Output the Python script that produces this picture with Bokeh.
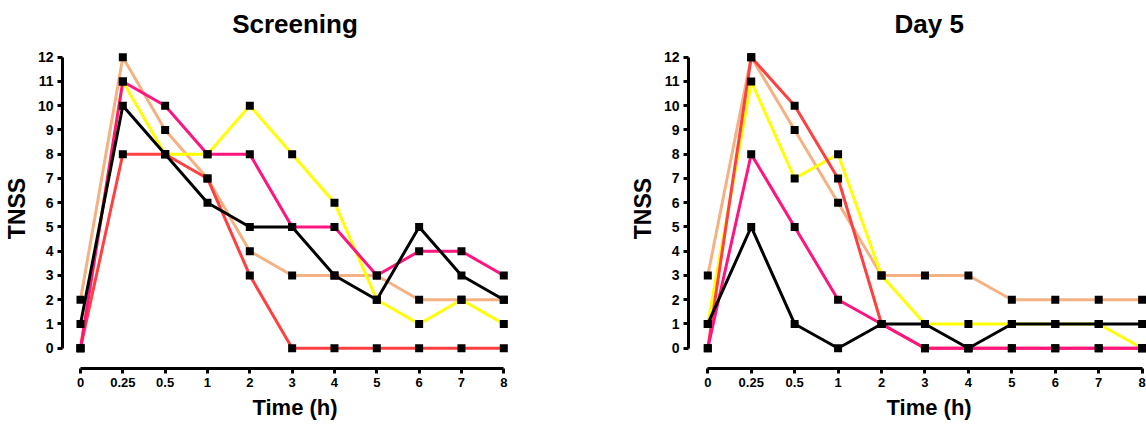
from bokeh.plotting import figure
from bokeh.layouts import row
from bokeh.models import FixedTicker, Range1d, Title
from bokeh.embed import file_html
from bokeh.resources import INLINE

time_labels = ["0", "0.25", "0.5", "1", "2", "3", "4", "5", "6", "7", "8"]
y_ticks = list(range(13))

# Screening (TNSS per subject)
scr_peach = [2, 12, 9, 7, 4, 3, 3, 3, 2, 2, 2]
scr_yellow = [0, 11, 8, 8, 10, 8, 6, 2, 1, 2, 1]
scr_red = [0, 8, 8, 7, 3, 0, 0, 0, 0, 0, 0]
scr_pink = [0, 11, 10, 8, 8, 5, 5, 3, 4, 4, 3]
scr_black = [1, 10, 8, 6, 5, 5, 3, 2, 5, 3, 2]

# Day 5
d5_peach = [3, 12, 9, 6, 3, 3, 3, 2, 2, 2, 2]
d5_yellow = [1, 11, 7, 8, 3, 1, 1, 1, 1, 1, 0]
d5_red = [0, 12, 10, 7, 1, 0, 0, 0, 0, 0, 0]
d5_pink = [0, 8, 5, 2, 1, 0, 0, 0, 0, 0, 0]
d5_black = [1, 5, 1, 0, 1, 1, 0, 1, 1, 1, 1]

colors = {"peach": "#F4B183", "yellow": "#FFFF00", "red": "#FF4040",
          "pink": "#FF1480", "black": "#000000"}

FONT = "Liberation Sans"
x_idx = list(range(len(time_labels)))


def make_panel(series, width, mb_left, mb_right, xr):
    p = figure(width=width, height=425, output_backend="svg", toolbar_location=None,
               x_range=Range1d(*xr), y_range=Range1d(-0.837, 12.359),
               min_border_left=mb_left, min_border_right=mb_right,
               min_border_top=48, min_border_bottom=57)
    p.outline_line_color = None
    p.grid.visible = False
    p.background_fill_color = "white"
    p.border_fill_color = "white"
    p.title.text_font = FONT
    p.title.text_font_size = "26px"
    p.title.text_font_style = "bold"
    p.title.text_color = "black"
    p.title.standoff = 16
    p.title.vertical_align = "top"
    for name, vals in series:
        p.line(x_idx, vals, line_color=colors[name], line_width=3)
    for name, vals in series:
        p.scatter(x_idx, vals, marker="square", size=8, fill_color="black",
                  line_color="black", line_width=0)

    xa = p.xaxis[0]
    xa.ticker = FixedTicker(ticks=x_idx)
    xa.major_label_overrides = {i: t for i, t in zip(x_idx, time_labels)}
    xa.bounds = (0, len(time_labels) - 1)
    ya = p.yaxis[0]
    ya.ticker = FixedTicker(ticks=y_ticks)
    ya.bounds = (0, 12)
    for ax in (xa, ya):
        ax.axis_line_width = 3
        ax.major_tick_line_width = 3
        ax.major_tick_out = 5
        ax.major_tick_in = 0
        ax.minor_tick_line_color = None
        ax.major_label_text_font = FONT
        ax.major_label_text_font_style = "bold"
        ax.major_label_text_color = "black"
        ax.axis_label_text_font = FONT
        ax.axis_label_text_font_style = "bold"
        ax.axis_label_text_color = "black"
        ax.major_label_standoff = 4
    xa.major_label_text_font_size = "13px"
    ya.major_label_text_font_size = "14px"
    ya.axis_label = "TNSS"
    ya.axis_label_text_font_size = "23px"
    ya.axis_label_standoff = 5
    return p


p1 = make_panel([("peach", scr_peach), ("yellow", scr_yellow), ("red", scr_red),
                 ("pink", scr_pink), ("black", scr_black)],
                622, 62, 95, (-0.425, 10.56))
p1.title.text = "Screening"
p1.title.align = "center"
p1.xaxis[0].axis_label = "Time (h)"
p1.xaxis[0].axis_label_text_font_size = "22px"
p1.xaxis[0].axis_label_standoff = 5

p2 = make_panel([("peach", d5_peach), ("yellow", d5_yellow), ("red", d5_red),
                 ("pink", d5_pink), ("black", d5_black)],
                524, 66, 0, (-0.444, 10.1))
p2.title.text = "Day 5"
p2.title.align = "left"
p2.title.offset = 206
p2.add_layout(Title(text="Time (h)", align="left", offset=198, standoff=6,
                    text_font=FONT, text_font_size="22px", text_font_style="bold",
                    text_color="black"), "below")

layout = row(p1, p2)
open("out.html", "w").write(file_html(layout, INLINE))
